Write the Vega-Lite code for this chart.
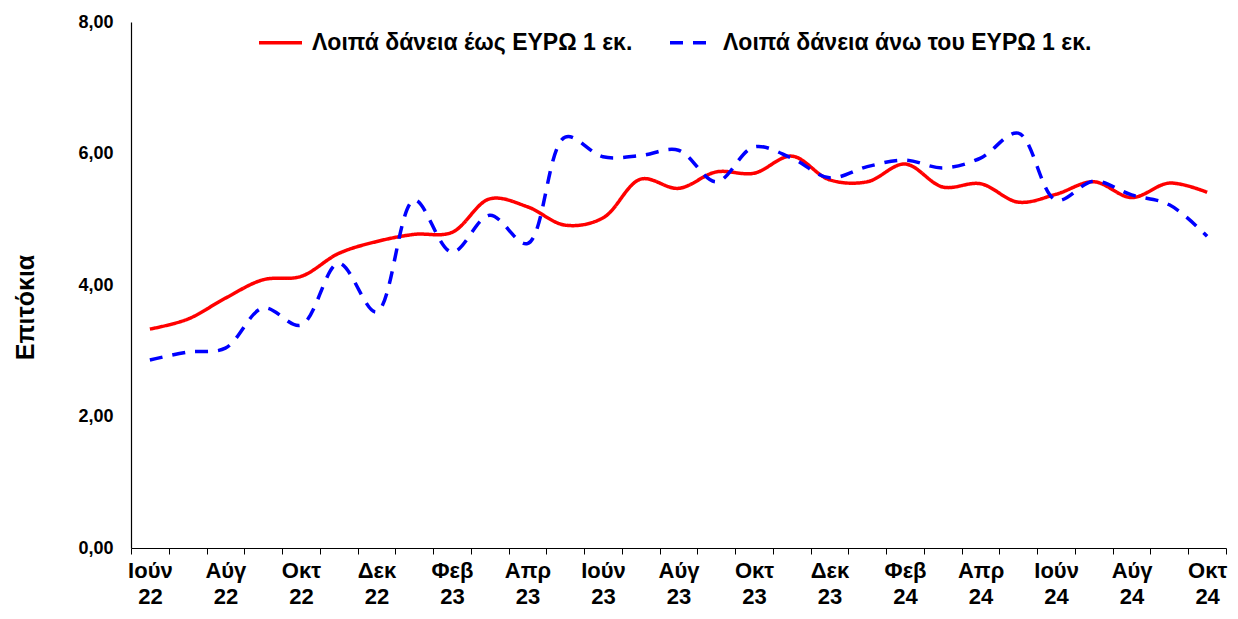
{
  "$schema": "https://vega.github.io/schema/vega-lite/v6.json",
  "width": 1095,
  "height": 526,
  "autosize": "none",
  "padding": {"left": 131, "top": 22, "right": 12, "bottom": 71},
  "background": "white",
  "config": {
    "view": {"stroke": null},
    "font": "Liberation Sans"
  },
  "datasets": {
    "rates": [
      {"m": "Ιούν 22", "s": "Λοιπά δάνεια έως ΕΥΡΩ 1 εκ.", "v": 3.33},
      {"m": "Ιούλ 22", "s": "Λοιπά δάνεια έως ΕΥΡΩ 1 εκ.", "v": 3.48},
      {"m": "Αύγ 22", "s": "Λοιπά δάνεια έως ΕΥΡΩ 1 εκ.", "v": 3.80},
      {"m": "Σεπ 22", "s": "Λοιπά δάνεια έως ΕΥΡΩ 1 εκ.", "v": 4.08},
      {"m": "Οκτ 22", "s": "Λοιπά δάνεια έως ΕΥΡΩ 1 εκ.", "v": 4.13},
      {"m": "Νοέ 22", "s": "Λοιπά δάνεια έως ΕΥΡΩ 1 εκ.", "v": 4.48},
      {"m": "Δεκ 22", "s": "Λοιπά δάνεια έως ΕΥΡΩ 1 εκ.", "v": 4.66},
      {"m": "Ιαν 23", "s": "Λοιπά δάνεια έως ΕΥΡΩ 1 εκ.", "v": 4.77},
      {"m": "Φεβ 23", "s": "Λοιπά δάνεια έως ΕΥΡΩ 1 εκ.", "v": 4.80},
      {"m": "Μάρ 23", "s": "Λοιπά δάνεια έως ΕΥΡΩ 1 εκ.", "v": 5.31},
      {"m": "Απρ 23", "s": "Λοιπά δάνεια έως ΕΥΡΩ 1 εκ.", "v": 5.19},
      {"m": "Μάι 23", "s": "Λοιπά δάνεια έως ΕΥΡΩ 1 εκ.", "v": 4.91},
      {"m": "Ιούν 23", "s": "Λοιπά δάνεια έως ΕΥΡΩ 1 εκ.", "v": 5.02},
      {"m": "Ιούλ 23", "s": "Λοιπά δάνεια έως ΕΥΡΩ 1 εκ.", "v": 5.61},
      {"m": "Αύγ 23", "s": "Λοιπά δάνεια έως ΕΥΡΩ 1 εκ.", "v": 5.47},
      {"m": "Σεπ 23", "s": "Λοιπά δάνεια έως ΕΥΡΩ 1 εκ.", "v": 5.72},
      {"m": "Οκτ 23", "s": "Λοιπά δάνεια έως ΕΥΡΩ 1 εκ.", "v": 5.70},
      {"m": "Νοέ 23", "s": "Λοιπά δάνεια έως ΕΥΡΩ 1 εκ.", "v": 5.96},
      {"m": "Δεκ 23", "s": "Λοιπά δάνεια έως ΕΥΡΩ 1 εκ.", "v": 5.60},
      {"m": "Ιαν 24", "s": "Λοιπά δάνεια έως ΕΥΡΩ 1 εκ.", "v": 5.57},
      {"m": "Φεβ 24", "s": "Λοιπά δάνεια έως ΕΥΡΩ 1 εκ.", "v": 5.84},
      {"m": "Μάρ 24", "s": "Λοιπά δάνεια έως ΕΥΡΩ 1 εκ.", "v": 5.49},
      {"m": "Απρ 24", "s": "Λοιπά δάνεια έως ΕΥΡΩ 1 εκ.", "v": 5.54},
      {"m": "Μάι 24", "s": "Λοιπά δάνεια έως ΕΥΡΩ 1 εκ.", "v": 5.26},
      {"m": "Ιούν 24", "s": "Λοιπά δάνεια έως ΕΥΡΩ 1 εκ.", "v": 5.38},
      {"m": "Ιούλ 24", "s": "Λοιπά δάνεια έως ΕΥΡΩ 1 εκ.", "v": 5.57},
      {"m": "Αύγ 24", "s": "Λοιπά δάνεια έως ΕΥΡΩ 1 εκ.", "v": 5.33},
      {"m": "Σεπ 24", "s": "Λοιπά δάνεια έως ΕΥΡΩ 1 εκ.", "v": 5.55},
      {"m": "Οκτ 24", "s": "Λοιπά δάνεια έως ΕΥΡΩ 1 εκ.", "v": 5.41},
      {"m": "Ιούν 22", "s": "Λοιπά δάνεια άνω του ΕΥΡΩ 1 εκ.", "v": 2.86},
      {"m": "Ιούλ 22", "s": "Λοιπά δάνεια άνω του ΕΥΡΩ 1 εκ.", "v": 2.98},
      {"m": "Αύγ 22", "s": "Λοιπά δάνεια άνω του ΕΥΡΩ 1 εκ.", "v": 3.04},
      {"m": "Σεπ 22", "s": "Λοιπά δάνεια άνω του ΕΥΡΩ 1 εκ.", "v": 3.65},
      {"m": "Οκτ 22", "s": "Λοιπά δάνεια άνω του ΕΥΡΩ 1 εκ.", "v": 3.39},
      {"m": "Νοέ 22", "s": "Λοιπά δάνεια άνω του ΕΥΡΩ 1 εκ.", "v": 4.33},
      {"m": "Δεκ 22", "s": "Λοιπά δάνεια άνω του ΕΥΡΩ 1 εκ.", "v": 3.59},
      {"m": "Ιαν 23", "s": "Λοιπά δάνεια άνω του ΕΥΡΩ 1 εκ.", "v": 5.29},
      {"m": "Φεβ 23", "s": "Λοιπά δάνεια άνω του ΕΥΡΩ 1 εκ.", "v": 4.50},
      {"m": "Μάρ 23", "s": "Λοιπά δάνεια άνω του ΕΥΡΩ 1 εκ.", "v": 5.06},
      {"m": "Απρ 23", "s": "Λοιπά δάνεια άνω του ΕΥΡΩ 1 εκ.", "v": 4.63},
      {"m": "Μάι 23", "s": "Λοιπά δάνεια άνω του ΕΥΡΩ 1 εκ.", "v": 6.25},
      {"m": "Ιούν 23", "s": "Λοιπά δάνεια άνω του ΕΥΡΩ 1 εκ.", "v": 5.95},
      {"m": "Ιούλ 23", "s": "Λοιπά δάνεια άνω του ΕΥΡΩ 1 εκ.", "v": 5.97},
      {"m": "Αύγ 23", "s": "Λοιπά δάνεια άνω του ΕΥΡΩ 1 εκ.", "v": 6.05},
      {"m": "Σεπ 23", "s": "Λοιπά δάνεια άνω του ΕΥΡΩ 1 εκ.", "v": 5.57},
      {"m": "Οκτ 23", "s": "Λοιπά δάνεια άνω του ΕΥΡΩ 1 εκ.", "v": 6.10},
      {"m": "Νοέ 23", "s": "Λοιπά δάνεια άνω του ΕΥΡΩ 1 εκ.", "v": 5.93},
      {"m": "Δεκ 23", "s": "Λοιπά δάνεια άνω του ΕΥΡΩ 1 εκ.", "v": 5.63},
      {"m": "Ιαν 24", "s": "Λοιπά δάνεια άνω του ΕΥΡΩ 1 εκ.", "v": 5.80},
      {"m": "Φεβ 24", "s": "Λοιπά δάνεια άνω του ΕΥΡΩ 1 εκ.", "v": 5.90},
      {"m": "Μάρ 24", "s": "Λοιπά δάνεια άνω του ΕΥΡΩ 1 εκ.", "v": 5.78},
      {"m": "Απρ 24", "s": "Λοιπά δάνεια άνω του ΕΥΡΩ 1 εκ.", "v": 5.93},
      {"m": "Μάι 24", "s": "Λοιπά δάνεια άνω του ΕΥΡΩ 1 εκ.", "v": 6.31},
      {"m": "Ιούν 24", "s": "Λοιπά δάνεια άνω του ΕΥΡΩ 1 εκ.", "v": 5.29},
      {"m": "Ιούλ 24", "s": "Λοιπά δάνεια άνω του ΕΥΡΩ 1 εκ.", "v": 5.58},
      {"m": "Αύγ 24", "s": "Λοιπά δάνεια άνω του ΕΥΡΩ 1 εκ.", "v": 5.37},
      {"m": "Σεπ 24", "s": "Λοιπά δάνεια άνω του ΕΥΡΩ 1 εκ.", "v": 5.22},
      {"m": "Οκτ 24", "s": "Λοιπά δάνεια άνω του ΕΥΡΩ 1 εκ.", "v": 4.74}
    ]
  },
  "data": {"name": "rates"},
  "mark": {"type": "line", "interpolate": "catmull-rom", "strokeWidth": 3.5},
  "encoding": {
    "x": {
      "field": "m",
      "type": "nominal",
      "sort": ["Ιούν 22","Ιούλ 22","Αύγ 22","Σεπ 22","Οκτ 22","Νοέ 22","Δεκ 22","Ιαν 23","Φεβ 23","Μάρ 23","Απρ 23","Μάι 23","Ιούν 23","Ιούλ 23","Αύγ 23","Σεπ 23","Οκτ 23","Νοέ 23","Δεκ 23","Ιαν 24","Φεβ 24","Μάρ 24","Απρ 24","Μάι 24","Ιούν 24","Ιούλ 24","Αύγ 24","Σεπ 24","Οκτ 24"],
      "scale": {"type": "band", "paddingInner": 0, "paddingOuter": 0},
      "axis": {
        "title": null,
        "labelAngle": 0,
        "labelOverlap": false,
        "labelExpr": "indexof(['Ιούν 22','Αύγ 22','Οκτ 22','Δεκ 22','Φεβ 23','Απρ 23','Ιούν 23','Αύγ 23','Οκτ 23','Δεκ 23','Φεβ 24','Απρ 24','Ιούν 24','Αύγ 24','Οκτ 24'], datum.value) >= 0 ? split(datum.value, ' ') : ''",
        "labelFont": "Liberation Sans",
        "labelFontWeight": "bold",
        "labelFontSize": 22,
        "labelLineHeight": 26,
        "labelColor": "black",
        "labelPadding": 6,
        "tickBand": "extent",
        "tickColor": "black",
        "tickSize": 6,
        "domainColor": "black",
        "domainWidth": 1.2,
        "grid": false
      }
    },
    "y": {
      "field": "v",
      "type": "quantitative",
      "scale": {"domain": [0, 8], "nice": false},
      "axis": {
        "title": "Επιτόκια",
        "titleFont": "Liberation Sans",
        "titleFontWeight": "bold",
        "titleFontSize": 25,
        "titleColor": "black",
        "titleX": -98,
        "titleY": 285,
        "titleBaseline": "alphabetic",
        "titleAlign": "center",
        "values": [0, 2, 4, 6, 8],
        "labelExpr": "replace(format(datum.value, '.2f'), '.', ',')",
        "labelFont": "Liberation Sans",
        "labelFontWeight": "bold",
        "labelFontSize": 18,
        "labelColor": "black",
        "labelPadding": 18,
        "ticks": false,
        "domainColor": "black",
        "domainWidth": 1.2,
        "grid": false
      }
    },
    "color": {
      "field": "s",
      "type": "nominal",
      "scale": {"domain": ["Λοιπά δάνεια έως ΕΥΡΩ 1 εκ.", "Λοιπά δάνεια άνω του ΕΥΡΩ 1 εκ."], "range": ["#FF0000", "#0000FF"]},
      "legend": {
        "title": null,
        "orient": "none",
        "legendX": 126,
        "legendY": -3,
        "direction": "horizontal",
        "columns": 2,
        "columnPadding": 30,
        "symbolType": "stroke",
        "symbolSize": 1849,
        "symbolStrokeWidth": 3.5,
        "labelFont": "Liberation Sans",
        "labelFontWeight": "bold",
        "labelFontSize": 23,
        "labelColor": "black",
        "labelOffset": 8,
        "labelLimit": 600
      }
    },
    "strokeDash": {
      "field": "s",
      "type": "nominal",
      "scale": {"domain": ["Λοιπά δάνεια έως ΕΥΡΩ 1 εκ.", "Λοιπά δάνεια άνω του ΕΥΡΩ 1 εκ."], "range": [[1, 0], [13, 10]]},
      "legend": {
        "title": null,
        "orient": "none",
        "legendX": 126,
        "legendY": -3,
        "direction": "horizontal",
        "columns": 2,
        "columnPadding": 30,
        "symbolType": "stroke",
        "symbolSize": 1849,
        "symbolStrokeWidth": 3.5,
        "labelFont": "Liberation Sans",
        "labelFontWeight": "bold",
        "labelFontSize": 23,
        "labelColor": "black",
        "labelOffset": 8,
        "labelLimit": 600
      }
    }
  }
}
